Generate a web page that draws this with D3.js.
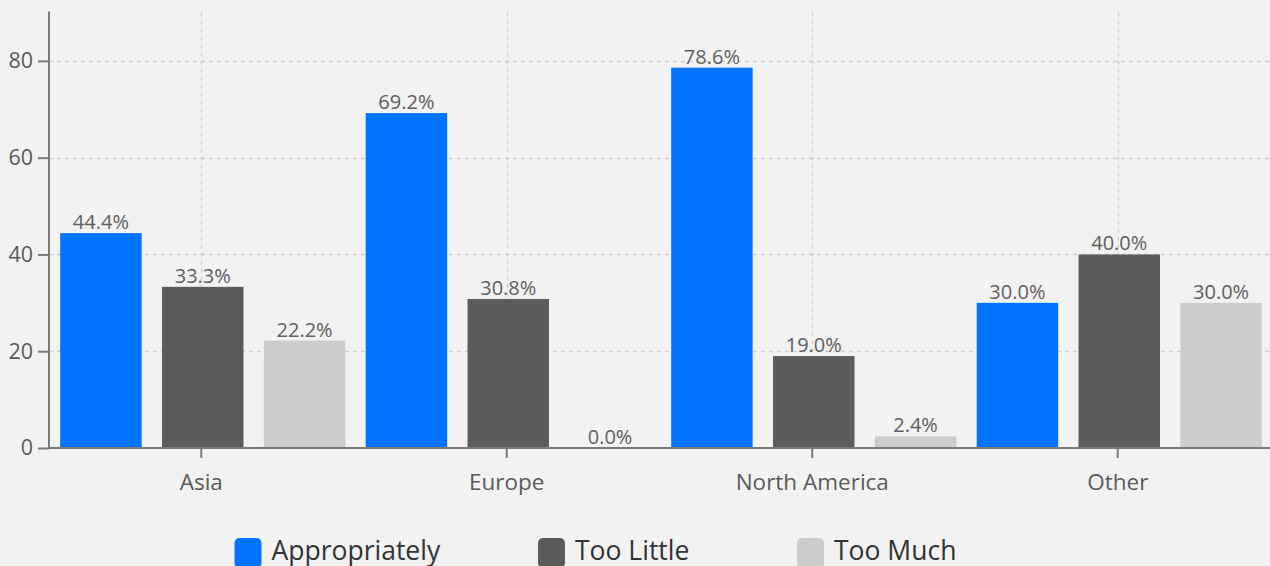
<!DOCTYPE html>
<html>
<head>
<meta charset="utf-8">
<script src="https://cdn.jsdelivr.net/npm/d3@7"></script>
<style>
  html, body { margin: 0; padding: 0; background: #f2f2f2; }
  svg { display: block; font-family: "Open Sans", sans-serif; }
</style>
</head>
<body>
<svg id="chart" width="1270" height="566"></svg>
<script>
const categories = ["Asia", "Europe", "North America", "Other"];
const seriesNames = ["Appropriately", "Too Little", "Too Much"];
const appropriately = [44.4, 69.2, 78.6, 30.0];
const tooLittle = [33.3, 30.8, 19.0, 40.0];
const tooMuch = [22.2, 0.0, 2.4, 30.0];
const yTicks = [0, 20, 40, 60, 80];
const colors = ["#0074ff", "#5b5b5d", "#cccccc"];

const seriesValues = [appropriately, tooLittle, tooMuch];
const rows = categories.map((c, i) => ({
  category: c,
  values: seriesNames.map((s, j) => ({ series: s, idx: j, value: seriesValues[j][i] }))
}));

const svg = d3.select("#chart");
const axisX = 49, mLeft = 48.5, mRight = 1270.5, mTop = 12.5, mBottom = 448, barShift = 1.5;

const x0 = d3.scaleBand().domain(categories).range([mLeft, mRight]).paddingInner(0).paddingOuter(0);
const x1 = d3.scaleBand().domain(seriesNames).range([barShift, x0.bandwidth() + barShift]).paddingInner(0.2).paddingOuter(0.1);
const y = d3.scaleLinear().domain([0, 90]).range([mBottom, mTop]);

// grid
const grid = svg.append("g");
grid.selectAll("line.h").data(yTicks.filter(d => d > 0)).join("line")
  .attr("x1", axisX).attr("x2", 1270)
  .attr("y1", d => Math.round(y(d)) + 0.5).attr("y2", d => Math.round(y(d)) + 0.5)
  .attr("stroke", "#cdcdcd").attr("stroke-width", 1.3).attr("stroke-dasharray", "4,4");
grid.selectAll("line.v").data(categories).join("line")
  .attr("x1", d => Math.round(x0(d) + x0.bandwidth() / 2) + 0.5)
  .attr("x2", d => Math.round(x0(d) + x0.bandwidth() / 2) + 0.5)
  .attr("y1", mTop).attr("y2", mBottom)
  .attr("stroke", "#cdcdcd").attr("stroke-width", 1.3).attr("stroke-dasharray", "4,4");

// bars
const groups = svg.append("g").selectAll("g").data(rows).join("g")
  .attr("transform", d => `translate(${x0(d.category)},0)`);
groups.selectAll("rect").data(d => d.values).join("rect")
  .attr("x", d => x1(d.series))
  .attr("width", x1.bandwidth())
  .attr("y", d => y(d.value))
  .attr("height", d => y(0) - y(d.value))
  .attr("fill", d => colors[d.idx]);
groups.selectAll("text").data(d => d.values).join("text")
  .attr("x", d => x1(d.series) + x1.bandwidth() / 2)
  .attr("y", d => y(d.value) - 4)
  .attr("text-anchor", "middle")
  .attr("font-size", "20px")
  .attr("fill", "#606060")
  .text(d => d.value.toFixed(1) + "%");

// y axis
const yAxis = svg.append("g").attr("transform", `translate(${axisX},0)`)
  .call(d3.axisLeft(y).tickValues(yTicks).tickSize(11).tickPadding(5).tickSizeOuter(0));
yAxis.select(".domain").attr("stroke", "#7a7a7a").attr("stroke-width", 2)
  .attr("d", `M0,${mTop - 1}V${mBottom}`);
yAxis.selectAll(".tick line").attr("stroke", "#7a7a7a").attr("stroke-width", 2);
yAxis.selectAll(".tick text").attr("font-size", "21.5px").attr("fill", "#5a5a5a")
  .attr("font-family", "Open Sans, sans-serif");

// x axis
const xAxis = svg.append("g").attr("transform", `translate(0,${mBottom})`)
  .call(d3.axisBottom(x0).tickSize(10).tickPadding(16).tickSizeOuter(0));
xAxis.select(".domain").attr("stroke", "#7a7a7a").attr("stroke-width", 2)
  .attr("d", `M${axisX},0H1270`);
xAxis.selectAll(".tick line").attr("stroke", "#7a7a7a").attr("stroke-width", 2);
xAxis.selectAll(".tick text").attr("font-size", "22.5px").attr("fill", "#5a5a5a")
  .attr("font-family", "Open Sans, sans-serif");

// legend
const legendX = [234.5, 538, 797];
const legend = svg.append("g").selectAll("g").data(seriesNames).join("g")
  .attr("transform", (d, i) => `translate(${legendX[i]},538)`);
legend.append("rect").attr("width", 27).attr("height", 30).attr("rx", 5)
  .attr("fill", (d, i) => colors[i]);
legend.append("text").attr("x", 37).attr("y", 22).attr("font-size", "26.5px")
  .attr("fill", "#333").text(d => d);
</script>
</body>
</html>
